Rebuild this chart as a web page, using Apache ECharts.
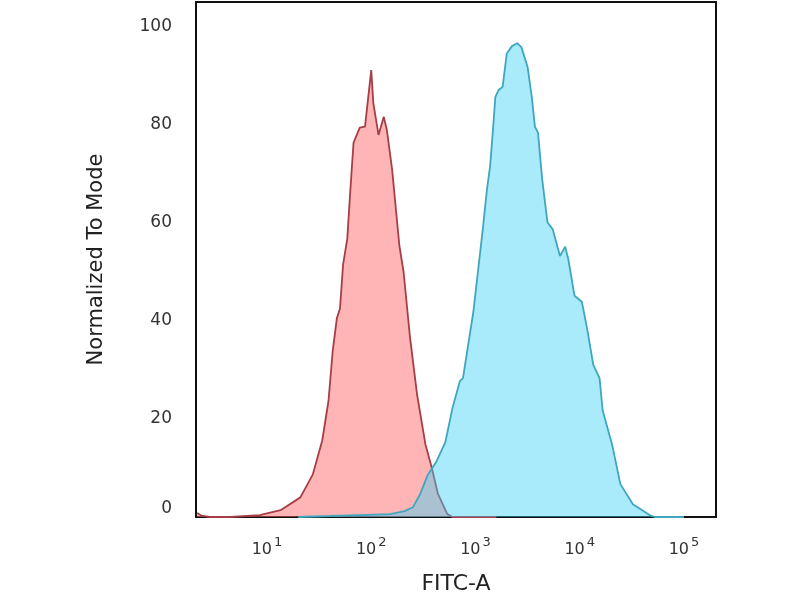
<!DOCTYPE html>
<html>
<head>
<meta charset="utf-8">
<script src="https://cdn.jsdelivr.net/npm/echarts@6/dist/echarts.min.js"></script>
<style>
html,body{margin:0;padding:0;background:#fff;}
#chart{width:800px;height:600px;}
</style>
</head>
<body>
<div id="chart"></div>
<script>
// log10(FITC-A) positions and normalized-to-mode values
var redX  = [0.33,0.37,0.45,0.65,0.93,1.13,1.32,1.44,1.53,1.59,1.63,1.67,1.70,1.73,1.77,1.80,1.83,1.89,1.94,2.00,2.02,2.07,2.12,2.15,2.20,2.23,2.27,2.31,2.37,2.44,2.52,2.58,2.64,2.73,2.78,3.2];
var redY  = [0.8,0.3,0,0,0.4,1.4,4.0,8.7,15.6,23.7,33.8,40.5,42.5,51.5,56.7,66.8,76.3,79.4,79.6,91.1,84.4,77.9,81.6,78.9,70.9,64.2,55.3,50.0,37.0,24.9,14.8,10.1,4.7,0.6,0,0];
var blueX = [1.3,1.60,1.89,2.18,2.32,2.40,2.47,2.54,2.62,2.71,2.78,2.85,2.88,2.98,3.07,3.11,3.14,3.17,3.19,3.22,3.26,3.30,3.35,3.40,3.44,3.48,3.50,3.54,3.57,3.60,3.64,3.69,3.74,3.81,3.86,3.89,3.95,4.02,4.07,4.13,4.19,4.22,4.31,4.39,4.51,4.67,4.72,5.0];
var blueY = [0,0.2,0.4,0.6,1.2,2.0,4.7,8.5,11.1,15.2,22.3,27.7,28.3,41.9,58.7,66.8,71.5,79.6,85.6,87.0,87.7,94.5,96.0,96.6,95.8,93.1,91.7,85.6,79.6,78.3,68.8,60.1,58.7,53.2,55.1,52.6,45.1,43.9,38.5,31.0,28.3,21.7,14.8,6.7,2.6,0.4,0,0];
var xTickValues = [1,2,3,4,5];
var yTickValues = [0,20,40,60,80,100];

function zip(xs, ys){ var out=[]; for(var i=0;i<xs.length;i++){ out.push([xs[i], ys[i]]); } return out; }

var chart = echarts.init(document.getElementById('chart'));
chart.setOption({
  animation:false,
  backgroundColor:'#fff',
  grid:{left:196, right:84, top:2, bottom:79, show:true, borderColor:'#111', borderWidth:2, backgroundColor:'transparent'},
  xAxis:{
    type:'value', min:0.319, max:5.307,
    name:'FITC-A', nameLocation:'middle', nameGap:56,
    nameTextStyle:{fontFamily:'DejaVu Sans', fontSize:22, color:'#222'},
    axisLine:{show:false}, axisTick:{show:false}, splitLine:{show:false},
    axisLabel:{
      customValues:xTickValues, margin:21, color:'#333', fontFamily:'DejaVu Sans',
      formatter:function(v){ return '{b|10}{s|' + v + '}'; },
      rich:{
        b:{fontFamily:'DejaVu Sans', fontSize:16, lineHeight:18, color:'#333', padding:[6,0,0,0]},
        s:{fontFamily:'DejaVu Sans', fontSize:13, lineHeight:15, color:'#333', padding:[0,0,9,2]}
      }
    }
  },
  yAxis:{
    type:'value', min:0, max:105,
    name:'Normalized To Mode', nameLocation:'middle', nameGap:89, nameRotate:90,
    nameTextStyle:{fontFamily:'DejaVu Sans', fontSize:21, color:'#222'},
    axisLine:{show:false}, axisTick:{show:false}, splitLine:{show:false},
    axisLabel:{
      customValues:yTickValues, margin:24, color:'#333', fontFamily:'DejaVu Sans', fontSize:17,
      formatter:function(v){ return v === 0 ? '{z|0}' : String(v); },
      rich:{ z:{fontFamily:'DejaVu Sans', fontSize:17, color:'#333', padding:[0,0,16,0]} }
    }
  },
  series:[
    {
      type:'line', name:'Isotype', data:zip(redX, redY), showSymbol:false, smooth:false,
      lineStyle:{color:'#a63e47', width:1.8},
      areaStyle:{color:'rgba(255,100,100,0.68)', origin:'start'},
      z:2
    },
    {
      type:'line', name:'Sample', data:zip(blueX, blueY), showSymbol:false, smooth:false,
      lineStyle:{color:'#3ea6bf', width:1.8},
      areaStyle:{color:'rgba(60,210,245,0.62)', origin:'start'},
      z:3
    }
  ]
});
</script>
</body>
</html>
